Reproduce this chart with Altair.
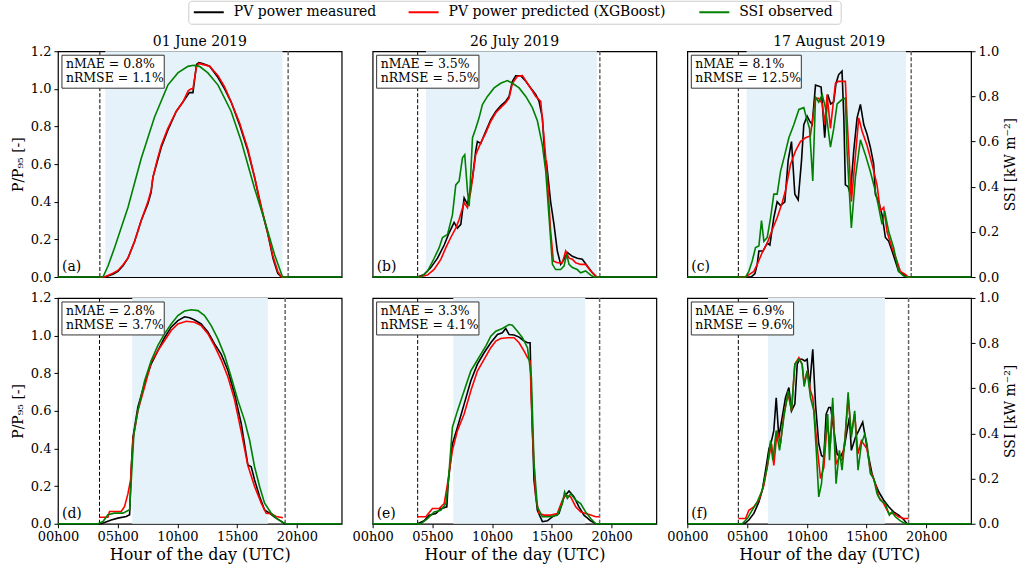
import altair as alt
import pandas as pd

# ---------------- data ----------------
SERIES = ["PV power measured", "PV power predicted (XGBoost)", "SSI observed"]
COLORS = ["#000000", "#ff0000", "#008000"]
DATES = ["01 June 2019", "26 July 2019", "17 August 2019"]
LETTERS = ["(a)", "(b)", "(c)", "(d)", "(e)", "(f)"]
NMAE = ["0.8%", "3.5%", "8.1%", "2.8%", "3.3%", "6.9%"]
NRMSE = ["1.1%", "5.5%", "12.5%", "3.7%", "4.1%", "9.6%"]
DAWN = [3.51, 3.77, 4.27, 3.48, 3.77, 4.27]
DUSK = [19.27, 19.02, 18.74, 19.02, 19.0, 18.52]
SPAN_START = [3.96, 4.46, 4.96, 6.22, 6.75, 6.75]
SPAN_END = [18.8, 18.77, 18.3, 17.57, 17.8, 16.54]
X_TICKS = [0, 5, 10, 15, 20]
P_TICKS = [0, 0.2, 0.4, 0.6, 0.8, 1.0, 1.2]
SSI_TICKS = [0, 0.2, 0.4, 0.6, 0.8, 1.0]

# panel a
A_MEAS_H = [0, 3.9, 4.18, 4.6, 5.02, 5.45, 5.86, 6.42, 6.97, 7.53, 7.8, 7.95, 8.3, 8.65, 9.2, 9.9, 10.46, 11.0, 11.3, 11.6, 11.8, 12.1, 12.7, 13.4, 13.95, 14.5, 15.2, 15.9, 16.46, 17.0, 17.57, 18.0, 18.4, 18.7, 23.75]
A_MEAS = [0, 0, 0.005, 0.015, 0.03, 0.06, 0.10, 0.19, 0.30, 0.39, 0.45, 0.53, 0.61, 0.69, 0.78, 0.88, 0.93, 0.98, 0.98, 1.13, 1.14, 1.135, 1.12, 1.06, 1.0, 0.93, 0.81, 0.67, 0.53, 0.37, 0.23, 0.10, 0.02, 0, 0]
A_PRED_H = [3.5, 3.9, 4.18, 4.6, 5.02, 5.45, 5.86, 6.42, 6.97, 7.53, 7.8, 7.95, 8.3, 8.65, 9.2, 9.9, 10.46, 10.9, 11.15, 11.3, 11.6, 11.8, 12.1, 12.7, 13.4, 13.95, 14.5, 15.2, 15.9, 16.46, 17.0, 17.57, 18.0, 18.4, 18.7, 19.25]
A_PRED = [0, 0, 0.008, 0.02, 0.035, 0.065, 0.10, 0.19, 0.30, 0.40, 0.46, 0.53, 0.62, 0.70, 0.79, 0.88, 0.93, 0.99, 1.0, 1.0, 1.12, 1.135, 1.13, 1.12, 1.07, 1.01, 0.93, 0.82, 0.68, 0.53, 0.38, 0.23, 0.11, 0.03, 0, 0]
A_SSI_H = [0, 3.77, 4.2, 4.74, 5.86, 6.97, 8.08, 9.2, 10.04, 10.88, 11.35, 11.85, 12.55, 13.4, 14.5, 15.35, 16.46, 17.3, 18.13, 18.8, 23.75]
A_SSI = [0, 0, 0.05, 0.13, 0.308, 0.525, 0.708, 0.85, 0.904, 0.933, 0.9375, 0.933, 0.904, 0.85, 0.733, 0.60, 0.392, 0.25, 0.10, 0, 0]

# panel b
B_MEAS_H = [0, 3.76, 4.31, 4.87, 5.43, 5.99, 6.4, 6.82, 7.1, 7.38, 7.66, 7.94, 8.36, 8.63, 8.77, 9.05, 9.47, 9.89, 10.31, 10.72, 11.14, 11.42, 11.7, 11.98, 12.4, 12.82, 13.23, 13.65, 13.93, 14.21, 14.45, 14.55, 14.9, 15.18, 15.46, 15.74, 16.02, 16.3, 16.72, 17.13, 17.55, 17.97, 18.39, 18.67, 18.8, 23.75]
B_MEAS = [0, 0, 0.014, 0.05, 0.10, 0.17, 0.235, 0.29, 0.26, 0.28, 0.42, 0.386, 0.527, 0.67, 0.72, 0.71, 0.775, 0.837, 0.88, 0.91, 0.934, 0.96, 1.04, 1.07, 1.07, 1.04, 1.005, 0.97, 0.934, 0.846, 0.60, 0.61, 0.40, 0.28, 0.138, 0.067, 0.094, 0.13, 0.11, 0.10, 0.094, 0.058, 0.023, 0.005, 0, 0]
B_PRED_H = [3.76, 4.59, 5.15, 5.71, 6.13, 6.54, 6.96, 7.24, 7.66, 7.94, 8.22, 8.63, 9.05, 9.47, 9.89, 10.31, 10.72, 11.14, 11.42, 11.7, 12.12, 12.54, 12.95, 13.37, 13.65, 14.07, 14.35, 14.63, 14.9, 15.13, 15.46, 15.88, 16.16, 16.44, 16.72, 17.0, 17.41, 17.83, 18.25, 18.67, 18.8, 19.02]
B_PRED = [0, 0.01, 0.04, 0.094, 0.156, 0.21, 0.26, 0.306, 0.395, 0.368, 0.457, 0.65, 0.713, 0.766, 0.828, 0.873, 0.90, 0.926, 0.95, 1.03, 1.067, 1.07, 1.03, 0.99, 0.96, 0.934, 0.74, 0.527, 0.244, 0.085, 0.076, 0.076, 0.138, 0.10, 0.094, 0.076, 0.067, 0.067, 0.032, 0.005, 0, 0]
B_SSI_H = [0, 4.04, 4.59, 5.15, 5.57, 5.85, 6.27, 6.68, 6.96, 7.24, 7.52, 7.71, 7.94, 8.08, 8.36, 8.63, 8.91, 9.19, 9.61, 10.17, 10.72, 11.28, 11.7, 12.26, 12.82, 13.37, 13.79, 14.21, 14.49, 14.77, 15.05, 15.32, 15.74, 16.02, 16.24, 16.44, 16.72, 17.13, 17.41, 17.83, 18.25, 18.5, 23.75]
B_SSI = [0, 0, 0.025, 0.083, 0.13, 0.175, 0.189, 0.275, 0.408, 0.425, 0.528, 0.542, 0.381, 0.314, 0.617, 0.658, 0.705, 0.764, 0.80, 0.8375, 0.858, 0.87, 0.858, 0.8375, 0.80, 0.75, 0.692, 0.583, 0.469, 0.2625, 0.056, 0.033, 0.033, 0.048, 0.10, 0.056, 0.042, 0.033, 0.019, 0.027, 0.008, 0, 0]

# panel c
C_MEAS_H = [0, 5.3, 5.43, 5.66, 5.85, 5.99, 6.33, 6.69, 6.91, 7.24, 7.52, 7.8, 8.16, 8.44, 8.72, 9.0, 9.28, 9.56, 9.75, 10.03, 10.23, 10.45, 10.73, 11.2, 11.5, 11.75, 12.0, 12.25, 12.45, 12.67, 12.95, 13.1, 13.23, 13.46, 13.65, 13.93, 14.21, 14.49, 14.77, 15.04, 15.32, 15.6, 15.74, 16.02, 16.3, 16.58, 16.86, 17.13, 17.41, 17.69, 18.11, 18.39, 23.75]
C_MEAS = [0, 0, 0.005, 0.018, 0.067, 0.138, 0.138, 0.18, 0.17, 0.315, 0.40, 0.38, 0.40, 0.62, 0.72, 0.44, 0.41, 0.62, 0.81, 0.855, 0.83, 0.81, 1.02, 1.01, 0.74, 0.97, 0.92, 0.93, 1.03, 1.076, 1.094, 0.85, 0.49, 0.48, 0.44, 0.67, 0.846, 0.917, 0.81, 0.76, 0.69, 0.60, 0.44, 0.40, 0.33, 0.21, 0.19, 0.14, 0.085, 0.03, 0.014, 0, 0]
C_PRED_H = [4.27, 4.88, 5.29, 5.57, 5.85, 6.27, 6.69, 7.1, 7.52, 7.94, 8.22, 8.64, 9.06, 9.47, 9.89, 10.3, 10.73, 11.0, 11.3, 11.5, 11.7, 11.98, 12.4, 12.67, 13.23, 13.37, 13.73, 14.01, 14.35, 14.63, 15.04, 15.46, 15.88, 16.16, 16.44, 16.72, 17.13, 17.55, 17.83, 18.25, 18.5, 18.74]
C_PRED = [0, 0, 0.018, 0.03, 0.067, 0.13, 0.18, 0.25, 0.315, 0.395, 0.46, 0.60, 0.67, 0.72, 0.74, 0.75, 0.95, 0.95, 0.92, 0.81, 0.97, 0.79, 1.03, 1.04, 1.04, 0.846, 0.40, 0.60, 0.846, 0.775, 0.70, 0.60, 0.49, 0.35, 0.37, 0.24, 0.156, 0.085, 0.03, 0.014, 0, 0]
C_SSI_H = [0, 4.88, 5.15, 5.43, 5.71, 5.99, 6.21, 6.41, 6.69, 6.97, 7.24, 7.52, 7.8, 8.16, 8.5, 8.92, 9.34, 9.75, 9.95, 10.23, 10.5, 10.73, 11.0, 11.29, 11.56, 11.98, 12.26, 12.54, 12.95, 13.23, 13.37, 13.73, 14.07, 14.49, 14.9, 15.32, 15.74, 16.02, 16.3, 16.52, 16.86, 17.27, 17.69, 18.11, 18.39, 23.75]
C_SSI = [0, 0, 0.025, 0.071, 0.13, 0.1375, 0.25, 0.158, 0.175, 0.2625, 0.367, 0.367, 0.467, 0.542, 0.617, 0.675, 0.742, 0.75, 0.708, 0.658, 0.425, 0.796, 0.775, 0.808, 0.75, 0.575, 0.658, 0.767, 0.786, 0.792, 0.558, 0.217, 0.442, 0.608, 0.542, 0.467, 0.381, 0.308, 0.233, 0.292, 0.20, 0.13, 0.025, 0.004, 0, 0]

# panel d
D_MEAS_H = [0, 3.6, 3.9, 4.46, 5.02, 5.72, 6.0, 6.14, 6.28, 6.69, 7.25, 7.81, 8.37, 8.93, 9.48, 10.04, 10.6, 11.02, 11.44, 11.99, 12.55, 13.11, 13.67, 14.23, 14.78, 15.34, 15.9, 16.18, 16.46, 16.88, 17.29, 17.71, 18.13, 18.55, 18.83, 18.97, 23.75]
D_MEAS = [0, 0, 0.007, 0.02, 0.03, 0.039, 0.048, 0.30, 0.46, 0.62, 0.745, 0.85, 0.92, 0.99, 1.045, 1.08, 1.10, 1.095, 1.083, 1.062, 1.02, 0.956, 0.90, 0.815, 0.69, 0.533, 0.312, 0.303, 0.233, 0.145, 0.074, 0.056, 0.035, 0.018, 0.007, 0, 0]
D_PRED_H = [3.49, 4.18, 4.32, 5.3, 5.58, 5.86, 6.08, 6.28, 6.69, 7.25, 7.81, 8.37, 8.93, 9.48, 10.04, 10.74, 11.44, 11.99, 12.55, 13.11, 13.67, 14.23, 14.78, 15.34, 15.9, 16.46, 17.02, 17.43, 17.85, 18.27, 18.83]
D_PRED = [0.035, 0.035, 0.065, 0.065, 0.092, 0.16, 0.233, 0.445, 0.60, 0.727, 0.86, 0.92, 0.974, 1.027, 1.062, 1.076, 1.071, 1.053, 1.01, 0.945, 0.87, 0.78, 0.66, 0.49, 0.31, 0.198, 0.11, 0.056, 0.053, 0.039, 0.032]
D_SSI_H = [0, 3.35, 3.77, 4.18, 4.74, 5.44, 6.0, 6.14, 6.36, 6.69, 7.25, 7.81, 8.37, 8.93, 9.48, 10.04, 10.6, 11.16, 11.72, 12.27, 12.83, 13.39, 13.95, 14.5, 15.06, 15.62, 16.04, 16.46, 16.88, 17.29, 17.85, 18.27, 18.83, 19.1, 23.75]
D_SSI = [0, 0, 0.01, 0.04, 0.047, 0.047, 0.062, 0.194, 0.40, 0.50, 0.633, 0.723, 0.79, 0.842, 0.885, 0.922, 0.942, 0.948, 0.944, 0.922, 0.8775, 0.819, 0.746, 0.65, 0.547, 0.458, 0.371, 0.2525, 0.165, 0.092, 0.047, 0.025, 0.006, 0, 0]

# panel e
E_MEAS_H = [0, 3.76, 4.31, 4.73, 5.29, 5.71, 6.21, 6.32, 6.68, 7.1, 7.66, 8.22, 8.77, 9.33, 9.89, 10.45, 10.86, 11.14, 11.42, 11.84, 12.26, 12.68, 12.96, 13.18, 13.29, 13.51, 13.79, 14.21, 14.63, 15.04, 15.6, 16.02, 16.44, 16.86, 17.27, 17.69, 18.25, 18.67, 23.75]
E_MEAS = [0, 0, 0.016, 0.046, 0.055, 0.08, 0.09, 0.213, 0.425, 0.513, 0.636, 0.76, 0.848, 0.909, 0.962, 1.006, 1.015, 1.038, 1.006, 1.003, 0.992, 0.971, 0.962, 0.962, 0.671, 0.23, 0.072, 0.011, 0.016, 0.037, 0.055, 0.143, 0.174, 0.143, 0.09, 0.046, 0.016, 0, 0]
E_PRED_H = [3.76, 4.45, 5.01, 5.57, 5.99, 6.27, 6.68, 7.1, 7.66, 8.22, 8.77, 9.33, 9.89, 10.31, 10.72, 11.28, 11.84, 12.26, 12.68, 12.96, 13.18, 13.37, 13.65, 13.93, 14.35, 14.91, 15.46, 15.88, 16.16, 16.58, 17.0, 17.41, 17.83, 18.25, 18.67, 18.95]
E_PRED = [0.037, 0.037, 0.081, 0.081, 0.107, 0.213, 0.39, 0.495, 0.583, 0.707, 0.812, 0.874, 0.936, 0.971, 0.985, 0.989, 0.989, 0.962, 0.918, 0.883, 0.865, 0.495, 0.143, 0.055, 0.046, 0.046, 0.055, 0.125, 0.152, 0.143, 0.09, 0.063, 0.055, 0.046, 0.037, 0.037]
E_SSI_H = [0, 4.04, 4.59, 5.15, 5.71, 6.13, 6.32, 6.68, 7.1, 7.66, 8.22, 8.63, 9.05, 9.47, 9.89, 10.31, 10.86, 11.42, 11.7, 12.12, 12.54, 12.96, 13.29, 13.51, 13.79, 14.21, 14.77, 15.46, 15.88, 16.07, 16.3, 16.58, 17.0, 17.41, 17.83, 18.25, 18.67, 23.75]
E_SSI = [0, 0, 0.023, 0.0525, 0.06, 0.089, 0.1775, 0.4275, 0.50, 0.589, 0.677, 0.713, 0.75, 0.787, 0.831, 0.853, 0.865, 0.8825, 0.879, 0.853, 0.824, 0.78, 0.6475, 0.266, 0.075, 0.031, 0.031, 0.038, 0.089, 0.141, 0.112, 0.133, 0.104, 0.089, 0.0525, 0.023, 0, 0]

# panel f
F_MEAS_H = [0, 4.6, 4.88, 5.15, 5.57, 5.99, 6.27, 6.55, 6.83, 7.05, 7.24, 7.44, 7.66, 7.94, 8.22, 8.5, 8.72, 9.0, 9.2, 9.39, 9.61, 9.84, 10.03, 10.23, 10.5, 10.73, 11.0, 11.23, 11.43, 11.62, 11.84, 12.0, 12.54, 12.81, 13.09, 13.37, 13.57, 13.73, 14.07, 14.35, 14.68, 14.9, 15.13, 15.46, 15.74, 16.02, 16.44, 16.86, 17.27, 17.69, 18.11, 18.39, 23.75]
F_MEAS = [0, 0, 0.005, 0.02, 0.055, 0.116, 0.178, 0.284, 0.398, 0.442, 0.495, 0.67, 0.46, 0.566, 0.671, 0.724, 0.60, 0.636, 0.848, 0.874, 0.874, 0.865, 0.874, 0.724, 0.927, 0.636, 0.425, 0.363, 0.354, 0.583, 0.618, 0.618, 0.37, 0.354, 0.39, 0.495, 0.566, 0.39, 0.46, 0.495, 0.54, 0.46, 0.37, 0.266, 0.213, 0.17, 0.125, 0.09, 0.063, 0.046, 0.023, 0, 0]
F_PRED_H = [4.27, 4.88, 5.15, 5.57, 5.99, 6.41, 6.83, 7.05, 7.24, 7.52, 7.8, 8.08, 8.44, 8.72, 9.0, 9.34, 9.61, 9.78, 10.03, 10.31, 10.5, 10.87, 11.15, 11.43, 11.7, 11.98, 12.17, 12.45, 12.73, 12.95, 13.2, 13.46, 13.73, 14.01, 14.29, 14.57, 14.85, 15.04, 15.32, 15.74, 16.02, 16.44, 16.86, 17.27, 17.69, 18.11, 18.52]
F_PRED = [0.028, 0.028, 0.072, 0.09, 0.125, 0.204, 0.354, 0.425, 0.31, 0.495, 0.425, 0.583, 0.69, 0.60, 0.848, 0.883, 0.848, 0.742, 0.812, 0.707, 0.671, 0.407, 0.24, 0.30, 0.53, 0.425, 0.636, 0.319, 0.354, 0.337, 0.45, 0.67, 0.476, 0.583, 0.372, 0.442, 0.416, 0.398, 0.284, 0.213, 0.143, 0.107, 0.055, 0.055, 0.037, 0.028, 0.028]
F_SSI_H = [0, 4.6, 5.02, 5.43, 5.85, 6.27, 6.69, 6.97, 7.16, 7.44, 7.72, 8.08, 8.44, 8.72, 9.0, 9.34, 9.61, 9.78, 10.03, 10.31, 10.59, 10.81, 11.0, 11.23, 11.51, 11.75, 11.9, 12.17, 12.45, 12.73, 12.95, 13.2, 13.46, 13.73, 14.01, 14.29, 14.57, 14.85, 15.04, 15.32, 15.6, 15.88, 16.16, 16.58, 16.91, 17.13, 17.41, 17.83, 18.25, 23.75]
F_SSI = [0, 0, 0.023, 0.06, 0.097, 0.148, 0.25, 0.368, 0.281, 0.4125, 0.325, 0.472, 0.589, 0.50, 0.707, 0.728, 0.707, 0.608, 0.677, 0.559, 0.50, 0.31, 0.119, 0.1775, 0.354, 0.486, 0.281, 0.558, 0.1775, 0.325, 0.237, 0.375, 0.582, 0.383, 0.50, 0.237, 0.354, 0.397, 0.354, 0.222, 0.20, 0.133, 0.104, 0.089, 0.038, 0.0525, 0.031, 0.013, 0, 0]

PANEL_DATA = [
    (A_MEAS_H, A_MEAS, A_PRED_H, A_PRED, A_SSI_H, A_SSI),
    (B_MEAS_H, B_MEAS, B_PRED_H, B_PRED, B_SSI_H, B_SSI),
    (C_MEAS_H, C_MEAS, C_PRED_H, C_PRED, C_SSI_H, C_SSI),
    (D_MEAS_H, D_MEAS, D_PRED_H, D_PRED, D_SSI_H, D_SSI),
    (E_MEAS_H, E_MEAS, E_PRED_H, E_PRED, E_SSI_H, E_SSI),
    (F_MEAS_H, F_MEAS, F_PRED_H, F_PRED, F_SSI_H, F_SSI),
]

# ---------------- style ----------------
FONT = "DejaVu Serif"
W, H = 284, 226
XMAX = 23.75
SHADE = "#e5f2f9"
LW = 1.6

COLOR = alt.Color("series:N", scale=alt.Scale(domain=SERIES, range=COLORS), legend=None)
XS = alt.Scale(domain=[0, XMAX], nice=False, zero=False)
ONE = pd.DataFrame({"k": [0]})

# legend geometry, in pixels relative to the top-left panel
LEG_BOX = (131, 784, -50, -27)
LEG_SYM_X = [136, 351, 642]
LEG_SYM_LEN = 30
LEG_Y = -39
LEG_TEXT_GAP = 10


def line_df(h, v, name):
    return pd.DataFrame({"h": h, "v": v, "series": name})


def legend_layers():
    x0, x1, y0, y1 = LEG_BOX
    out = [alt.Chart(ONE).mark_rect(fill="white", stroke="#cccccc", strokeWidth=1,
                                    cornerRadius=3).encode(
        x=alt.value(x0), x2=alt.value(x1), y=alt.value(y0), y2=alt.value(y1))]
    for name, colr, sx in zip(SERIES, COLORS, LEG_SYM_X):
        out.append(alt.Chart(ONE).mark_rule(color=colr, strokeWidth=2).encode(
            x=alt.value(sx), x2=alt.value(sx + LEG_SYM_LEN), y=alt.value(LEG_Y)))
        out.append(alt.Chart(ONE).mark_text(align="left", baseline="middle", font=FONT,
                                            fontSize=14, color="black").encode(
            x=alt.value(sx + LEG_SYM_LEN + LEG_TEXT_GAP), y=alt.value(LEG_Y),
            text=alt.value(name)))
    return out


def panel(i):
    row, col = divmod(i, 3)
    mh, m, ph, p, sh, s = PANEL_DATA[i]
    if row == 1:
        xaxis = alt.Axis(values=X_TICKS, labelExpr="(datum.value < 10 ? '0' : '') + datum.value + 'h00'",
                         title="Hour of the day (UTC)", titleFontSize=16, titleFontWeight="normal",
                         titleFont=FONT, titleColor="black", labelFont=FONT, labelFontSize=13,
                         labelColor="black", tickColor="black", tickSize=4, domain=False, grid=False,
                         labelFlush=False, labelPadding=3, titlePadding=3)
    else:
        xaxis = None
    X = alt.X("h:Q", scale=XS, axis=xaxis, title=None)
    if col == 0:
        paxis = alt.Axis(values=P_TICKS, format=".1f", title="P/P₉₅ [-]", titleFont=FONT,
                         titleFontSize=14, titleFontWeight="normal", titleColor="black",
                         labelFont=FONT, labelFontSize=13, labelColor="black", tickColor="black",
                         tickSize=4, domain=False, grid=False, labelFlush=False, labelPadding=3,
                         titlePadding=5)
    else:
        paxis = None
    if col == 2:
        saxis = alt.Axis(orient="right", values=SSI_TICKS, format=".1f", title="SSI [kW m⁻²]",
                         titleFont=FONT, titleFontSize=14, titleFontWeight="normal", titleColor="black",
                         titleAngle=270, titleBaseline="top",
                         labelFont=FONT, labelFontSize=13, labelColor="black", tickColor="black",
                         tickSize=4, domain=False, grid=False, labelFlush=False, labelPadding=3,
                         titlePadding=5)
    else:
        saxis = None

    shade = alt.Chart(pd.DataFrame({"a": [SPAN_START[i]], "b": [SPAN_END[i]]})).mark_rect(
        color=SHADE).encode(x=alt.X("a:Q", scale=XS, axis=xaxis, title=None), x2="b:Q")
    dawn = alt.Chart(pd.DataFrame({"h": [DAWN[i]]})).mark_rule(
        color="black", strokeWidth=1, strokeDash=[4, 2]).encode(x=X)
    dusk = alt.Chart(pd.DataFrame({"h": [DUSK[i]]})).mark_rule(
        color="#666666", strokeWidth=1.5, strokeDash=[4, 2]).encode(x=X)

    meas = alt.Chart(line_df(mh, m, SERIES[0])).mark_line(strokeWidth=LW).encode(
        x=X, y=alt.Y("v:Q", scale=alt.Scale(domain=[0, 1.2], nice=False), axis=paxis), color=COLOR)
    pred = alt.Chart(line_df(ph, p, SERIES[1])).mark_line(strokeWidth=LW).encode(
        x=X, y=alt.Y("v:Q", scale=alt.Scale(domain=[0, 1.2], nice=False), axis=None), color=COLOR)
    ssi = alt.Chart(line_df(sh, s, SERIES[2])).mark_line(strokeWidth=LW).encode(
        x=X, y=alt.Y("v:Q", scale=alt.Scale(domain=[0, 1.0], nice=False), axis=saxis), color=COLOR)

    longest = max(len("nMAE = " + NMAE[i]), len("nRMSE = " + NRMSE[i]))
    bw = 4 + 10 + longest * 7.7
    box = alt.Chart(ONE).mark_rect(fill="white", stroke="#333333", strokeWidth=1).encode(
        x=alt.value(4), x2=alt.value(bw), y=alt.value(4), y2=alt.value(37))
    t1 = alt.Chart(ONE).mark_text(align="left", baseline="alphabetic", font=FONT, fontSize=12.5,
                                  color="black").encode(
        x=alt.value(8), y=alt.value(17), text=alt.value("nMAE = " + NMAE[i]))
    t2 = alt.Chart(ONE).mark_text(align="left", baseline="alphabetic", font=FONT, fontSize=12.5,
                                  color="black").encode(
        x=alt.value(8), y=alt.value(31), text=alt.value("nRMSE = " + NRMSE[i]))
    let = alt.Chart(ONE).mark_text(align="left", baseline="alphabetic", font=FONT, fontSize=14,
                                   color="black").encode(
        x=alt.value(4), y=alt.value(H - 6), text=alt.value(LETTERS[i]))

    layers = [shade, dawn, dusk, meas, pred, ssi, box, t1, t2, let]
    if row == 0:
        layers.append(alt.Chart(ONE).mark_text(align="center", baseline="alphabetic", font=FONT,
                                               fontSize=14, color="black").encode(
            x=alt.value(W / 2), y=alt.value(-5), text=alt.value(DATES[col])))
    if i == 0:
        layers += legend_layers()
    return alt.layer(*layers).resolve_scale(y="independent").properties(width=W, height=H)


chart = alt.concat(*[panel(i) for i in range(6)], columns=3,
                   spacing={"row": 21, "column": 31}, bounds="flush").properties(
    padding={"left": 10, "top": -1, "right": 0, "bottom": 0}
).configure(font=FONT).configure_view(stroke="black", strokeWidth=1.2)

chart.save("out.html", embed_options={"renderer": "svg", "actions": False})
